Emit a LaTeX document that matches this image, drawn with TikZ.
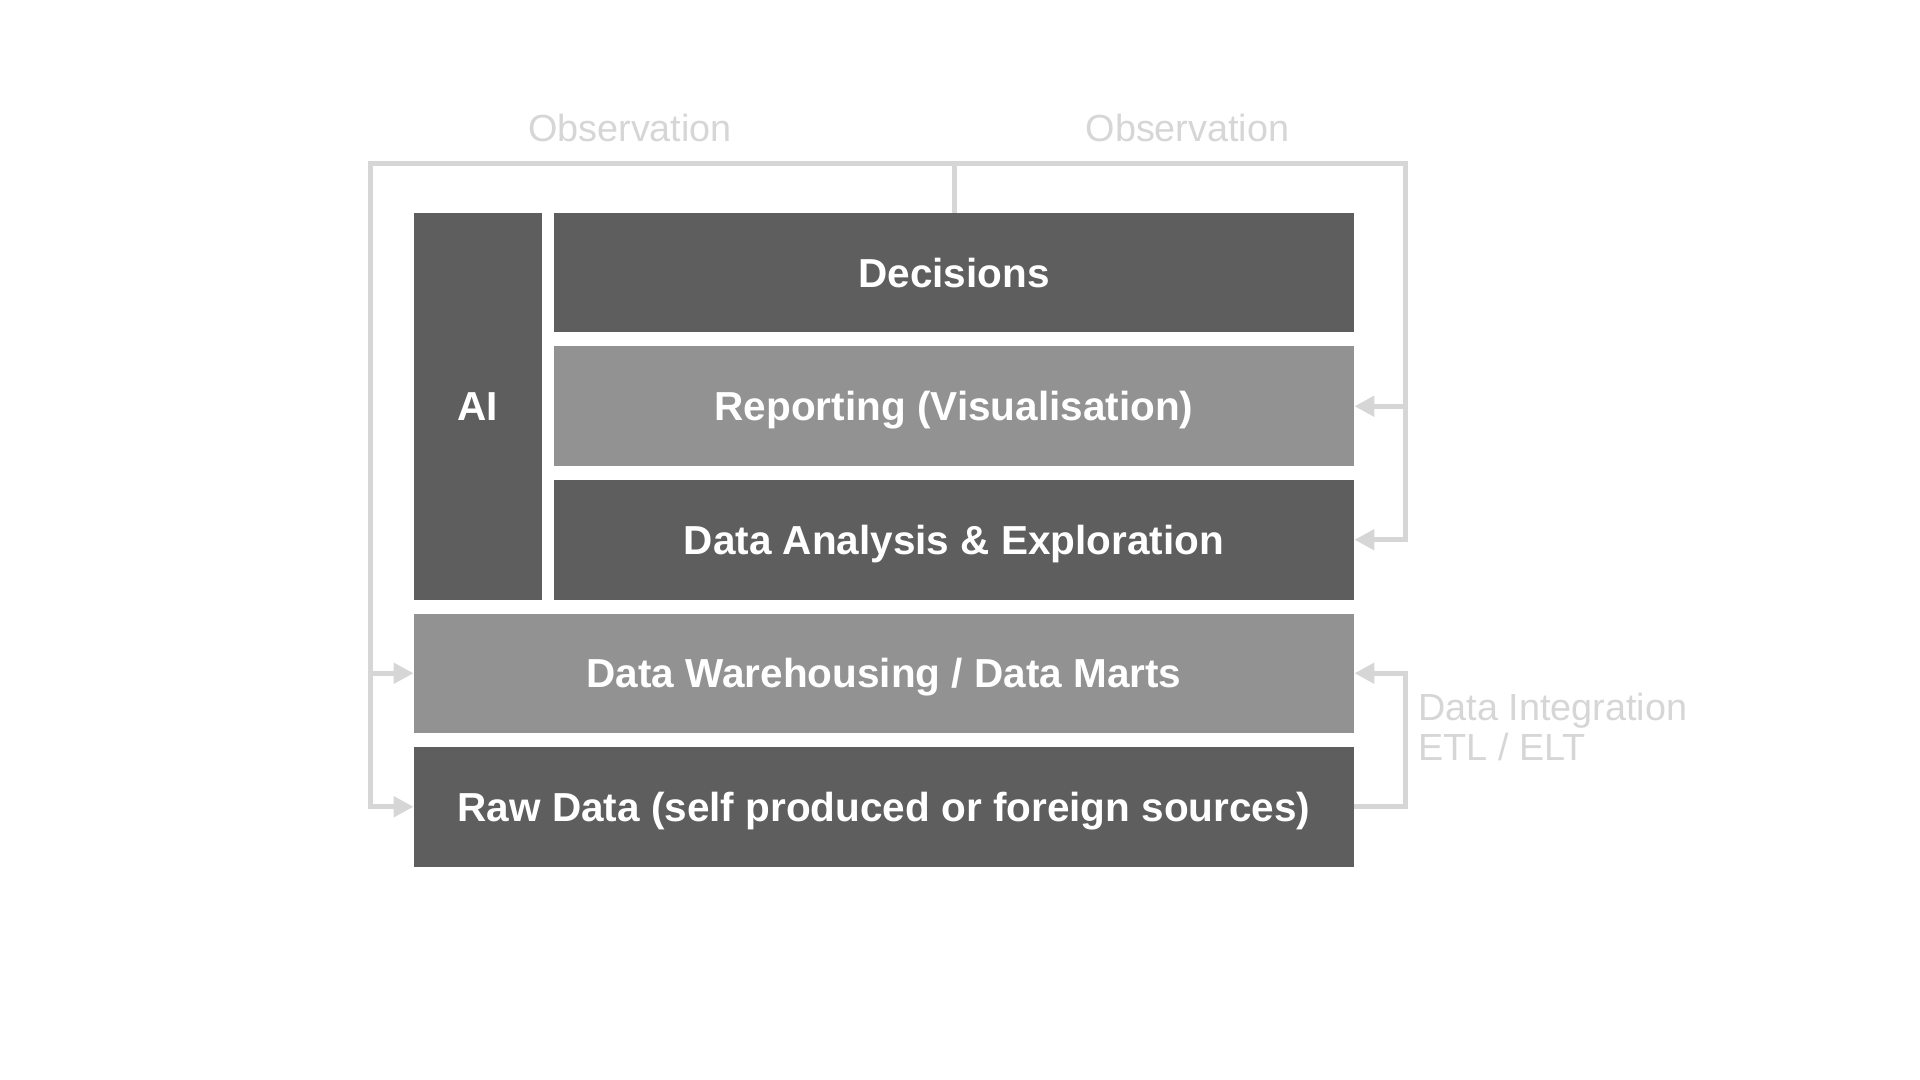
\documentclass[tikz,border=0pt]{standalone}
\usepackage{fontspec}
\setmainfont{Liberation Sans}
\usetikzlibrary{arrows.meta}
\definecolor{boxdark}{HTML}{5E5E5E}
\definecolor{boxmid}{HTML}{929292}
\definecolor{linegrey}{HTML}{D6D6D6}
\tikzset{
  layer/.style={rectangle, inner sep=0pt, text=white, text height=14.5pt, text depth=0pt,
    font=\fontsize{20.25pt}{24pt}\selectfont\bfseries},
  dark/.style={layer, fill=boxdark},
  mid/.style={layer, fill=boxmid},
  wide/.style={minimum width=400pt, minimum height=59.75pt},
  full/.style={minimum width=470pt, minimum height=59.75pt},
  conn/.style={draw=linegrey, line width=2.5pt, line join=miter},
  arr/.style={-{Triangle[length=10pt,width=10pt]}},
  lbl/.style={text=linegrey, inner sep=0pt, font=\fontsize{18.9pt}{20pt}\selectfont}
}
\begin{document}
\begin{tikzpicture}[x=0.5pt,y=-0.5pt]
\useasboundingbox (0,0) rectangle (1920,1080);
% boxes
\node[dark, minimum width=64pt, minimum height=193.25pt] (ai) at (478,406.25) {AI};
\node[dark, wide] (dec) at (954,272.75) {Decisions};
\node[mid, wide] (rep) at (954,406.25) {Reporting (Visualisation)};
\node[dark, wide] (ana) at (954,539.75) {Data Analysis \& Exploration};
\node[mid, full] (wh) at (884,673.25) {Data Warehousing / Data Marts};
\node[dark, full] (raw) at (884,806.75) {Raw Data (self produced or foreign sources)};
% coordinates
\coordinate (tl) at (370,163.5);
\coordinate (tr) at (1405,163.5);
\coordinate (ri) at (1405,806.75);
% connectors
\draw[conn] (dec.north) -- (dec.north |- tl);
\draw[conn, arr] (dec.north |- tl) -- (tl) |- (raw.west);
\draw[conn, arr] (tl) |- (wh.west);
\draw[conn, arr] (dec.north |- tl) -- (tr) |- (ana.east);
\draw[conn, arr] (tr) |- (rep.east);
\draw[conn, arr] (raw.east) -- (ri) |- (wh.east);
% labels
\node[lbl, anchor=base] (obs1) at (630,141.7) {Observation};
\node[lbl, anchor=base] (obs2) at (1187.5,141.7) {Observation};
\node[lbl, anchor=base west] (di1) at (1418,720) {Data Integration};
\node[lbl, anchor=base west] (di2) at (1418,760) {ETL / ELT};
\end{tikzpicture}
\end{document}
